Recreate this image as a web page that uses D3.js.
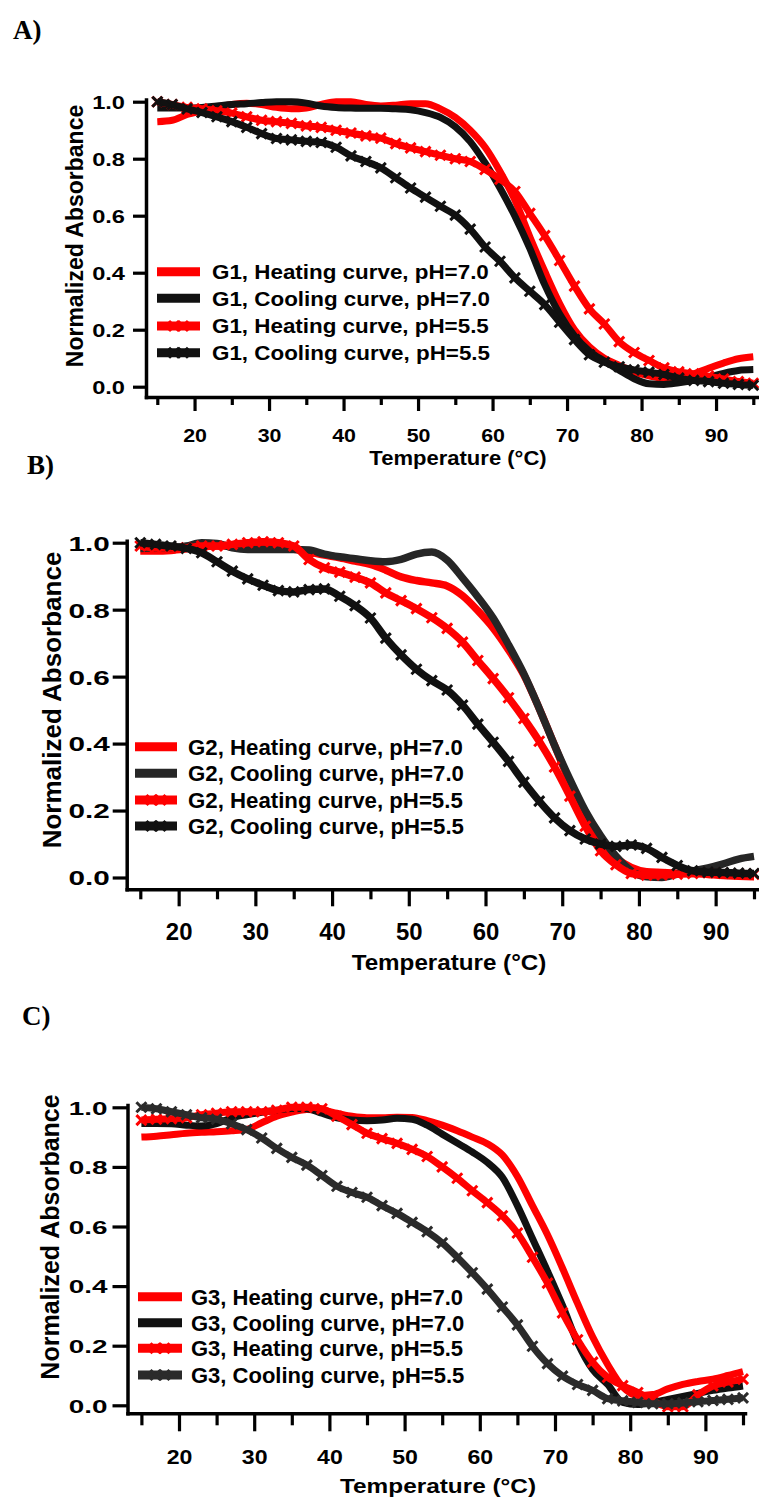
<!DOCTYPE html>
<html>
<head>
<meta charset="utf-8">
<script src="https://cdn.jsdelivr.net/npm/d3@7"></script>
<style>
  body { margin: 0; background: #fff; }
  svg text { font-family: "Liberation Sans", Arial, sans-serif; font-weight: bold; fill: #000; }
  svg text.panel-label { font-family: "Liberation Serif", "Times New Roman", serif; }
</style>
</head>
<body>
<svg id="fig" width="759" height="1497"></svg>
<script>
// Temperature grid (°C) shared by every curve
const temps = [15,17,19,21,23,25,27,29,31,33,35,37,39,41,43,45,47,49,51,53,55,57,59,61,63,65,67,69,71,73,75,77,79,81,83,85,87,89,91,93,95];

// Axis ticks
const xMajorTicks = [20,30,40,50,60,70,80,90];
const xMinorTicks = [15,25,35,45,55,65,75,85,95];
const yTicks = [0,0.2,0.4,0.6,0.8,1.0];

const curveNames = ["Heating curve, pH=7.0", "Cooling curve, pH=7.0", "Heating curve, pH=5.5", "Cooling curve, pH=5.5"];
const groups = ["G1", "G2", "G3"];

// G1 normalized absorbance
const g1Heat70 = [0.93,0.935,0.955,0.968,0.98,0.99,0.995,0.99,0.98,0.975,0.978,0.99,1.0,1.0,0.99,0.985,0.988,0.993,0.993,0.975,0.945,0.9,0.84,0.755,0.655,0.526,0.405,0.292,0.2,0.14,0.1,0.075,0.052,0.038,0.03,0.033,0.045,0.065,0.083,0.098,0.105];
const g1Cool70 = [0.978,0.978,0.978,0.98,0.985,0.99,0.993,0.997,1.0,1.0,0.995,0.985,0.98,0.978,0.977,0.977,0.975,0.972,0.962,0.945,0.912,0.86,0.785,0.697,0.598,0.485,0.358,0.255,0.178,0.125,0.09,0.058,0.028,0.01,0.008,0.014,0.022,0.033,0.047,0.057,0.06];
const g1Heat55 = [1.0,0.99,0.98,0.975,0.968,0.96,0.947,0.935,0.93,0.924,0.915,0.91,0.9,0.89,0.88,0.872,0.853,0.838,0.825,0.812,0.8,0.79,0.762,0.728,0.685,0.608,0.53,0.443,0.353,0.273,0.22,0.158,0.12,0.092,0.066,0.052,0.045,0.037,0.027,0.018,0.012];
const g1Cool55 = [1.0,0.99,0.975,0.962,0.947,0.93,0.91,0.888,0.871,0.866,0.861,0.857,0.84,0.81,0.79,0.768,0.733,0.697,0.665,0.633,0.602,0.553,0.49,0.44,0.382,0.335,0.288,0.226,0.165,0.112,0.086,0.07,0.059,0.051,0.043,0.03,0.022,0.018,0.012,0.008,0.005];

// G2 normalized absorbance
const g2Heat70 = [0.975,0.975,0.977,0.982,0.988,0.99,0.99,0.99,0.99,0.985,0.98,0.972,0.963,0.955,0.945,0.935,0.918,0.898,0.887,0.88,0.871,0.842,0.797,0.745,0.68,0.605,0.505,0.395,0.282,0.177,0.1,0.058,0.03,0.017,0.015,0.013,0.012,0.009,0.006,0.004,0.002];
const g2Cool70 = [0.983,0.985,0.985,0.99,1.0,0.998,0.985,0.98,0.98,0.98,0.98,0.978,0.966,0.958,0.952,0.946,0.943,0.95,0.966,0.972,0.948,0.895,0.838,0.775,0.695,0.608,0.505,0.395,0.293,0.2,0.125,0.064,0.02,0.002,0.0,0.01,0.02,0.029,0.041,0.055,0.063];
const g2Heat55 = [0.99,0.985,0.985,0.985,0.99,0.99,0.995,1.0,1.003,1.0,0.99,0.95,0.925,0.912,0.897,0.88,0.85,0.827,0.803,0.776,0.744,0.703,0.648,0.594,0.537,0.475,0.407,0.33,0.243,0.153,0.08,0.038,0.012,0.007,0.008,0.01,0.012,0.014,0.013,0.011,0.01];
const g2Cool55 = [1.0,0.995,0.99,0.983,0.97,0.943,0.915,0.892,0.873,0.857,0.853,0.86,0.862,0.84,0.812,0.775,0.715,0.665,0.622,0.588,0.56,0.515,0.458,0.404,0.347,0.285,0.228,0.178,0.14,0.115,0.1,0.093,0.097,0.087,0.06,0.036,0.02,0.016,0.015,0.013,0.012];

// G3 normalized absorbance
const g3Heat70 = [0.9,0.903,0.908,0.913,0.916,0.918,0.921,0.926,0.948,0.97,0.984,0.993,0.99,0.98,0.97,0.965,0.965,0.967,0.966,0.955,0.94,0.921,0.9,0.878,0.84,0.768,0.67,0.572,0.46,0.342,0.23,0.137,0.062,0.033,0.036,0.055,0.07,0.08,0.088,0.1,0.113];
const g3Cool70 = [0.946,0.946,0.945,0.94,0.937,0.945,0.965,0.975,0.983,0.99,0.996,0.995,0.98,0.965,0.957,0.955,0.957,0.963,0.96,0.94,0.91,0.88,0.85,0.815,0.765,0.67,0.56,0.45,0.335,0.21,0.12,0.07,0.01,0.003,0.01,0.02,0.03,0.04,0.05,0.058,0.065];
const g3Heat55 = [0.957,0.96,0.962,0.965,0.975,0.98,0.985,0.985,0.985,0.99,1.0,1.0,0.995,0.97,0.942,0.913,0.895,0.879,0.859,0.835,0.8,0.762,0.72,0.68,0.636,0.578,0.497,0.41,0.31,0.22,0.145,0.094,0.066,0.043,0.015,-0.005,-0.005,0.035,0.065,0.078,0.088];
const g3Cool55 = [1.0,0.995,0.985,0.975,0.965,0.96,0.945,0.925,0.897,0.862,0.832,0.806,0.771,0.735,0.714,0.698,0.67,0.644,0.614,0.583,0.545,0.497,0.445,0.39,0.33,0.27,0.198,0.14,0.098,0.07,0.05,0.022,0.015,0.01,0.005,0.005,0.008,0.012,0.016,0.02,0.025];

const panelSeries = [
  [g1Heat70, g1Cool70, g1Heat55, g1Cool55],
  [g2Heat70, g2Cool70, g2Heat55, g2Cool55],
  [g3Heat70, g3Cool70, g3Heat55, g3Cool55]
];
const panelLabels = ["A)", "B)", "C)"];

// Layout and style of each panel
const layouts = [
  { labelX: 13, labelY: 39, labelSize: 27,
    yAxisX: 146, x15: 157.3, x95: 753.3, xRight: 757,
    y1: 101.7, y0: 386.7, yTopPx: 99.5, xAxisY: 397,
    yTickLen: 13, xMajorLen: 14, xMinorLen: 8,
    yLabelGap: 8, yFont: 18.6, yStretch: 1.27,
    xFont: 18.6, xStretch: 1.15, xLabelY: 435,
    xTitle: { x: 458, y: 458, size: 19.5, stretch: 1.13 },
    yTitle: { x: 75, y: 236, size: 23 },
    legend: { x0: 157, x1: 200, tx: 212, rows: [271.7, 298.3, 326, 352.7], size: 20, stretch: 1.12 },
    colors: ["#ff0000", "#111111", "#ff0000", "#111111"], lineW: 7 },
  { labelX: 27, labelY: 474, labelSize: 27,
    yAxisX: 126.7, x15: 140.3, x95: 754, xRight: 759,
    y1: 542.7, y0: 877.5, yTopPx: 540.7, xAxisY: 889.3,
    yTickLen: 14, xMajorLen: 17, xMinorLen: 10,
    yLabelGap: 3, yFont: 20.5, yStretch: 1.45,
    xFont: 23, xStretch: 1.04, xLabelY: 931.7,
    xTitle: { x: 449, y: 962, size: 22, stretch: 1.1 },
    yTitle: { x: 52, y: 700, size: 26 },
    legend: { x0: 135, x1: 177, tx: 188, rows: [746.7, 773.3, 800, 826], size: 22, stretch: 1.01 },
    colors: ["#ff0000", "#262626", "#ff0000", "#111111"], lineW: 7.5 },
  { labelX: 22, labelY: 1025, labelSize: 27,
    yAxisX: 127.5, x15: 141.4, x95: 743, xRight: 745,
    y1: 1107.3, y0: 1405.3, yTopPx: 1105, xAxisY: 1413.3,
    yTickLen: 15, xMajorLen: 18, xMinorLen: 12,
    yLabelGap: 5, yFont: 18.6, yStretch: 1.5,
    xFont: 21, xStretch: 1.1, xLabelY: 1456.7,
    xTitle: { x: 438, y: 1485, size: 21, stretch: 1.16 },
    yTitle: { x: 50, y: 1237, size: 25 },
    legend: { x0: 138, x1: 182, tx: 191, rows: [1296.7, 1322.7, 1348.3, 1375], size: 22, stretch: 1.0 },
    colors: ["#ff0000", "#111111", "#ff0000", "#2b2b2b"], lineW: 7 }
];

const svg = d3.select("#fig");
const crossPath = "M-5,-5L5,5M-5,5L5,-5";

layouts.forEach((L, p) => {
  const g = svg.append("g");

  // Scales: tick positions fixed by the 15 and 95 °C marks, axis line reaches the y axis
  const x = d3.scaleLinear().domain([15, 95]).range([L.x15, L.x95]);
  x.domain([x.invert(L.yAxisX), x.invert(L.xRight)]).range([L.yAxisX, L.xRight]);
  const y = d3.scaleLinear().domain([0, 1]).range([L.y0, L.y1]);
  y.domain([y.invert(L.xAxisY), y.invert(L.yTopPx)]).range([L.xAxisY, L.yTopPx]);

  // Curves
  const line = d3.line().x(d => x(d.t)).y(d => y(d.v)).curve(d3.curveMonotoneX);
  panelSeries[p].forEach((vals, i) => {
    const pts = temps.map((t, k) => ({ t, v: vals[k] }));
    g.append("path").datum(pts)
      .attr("d", line)
      .attr("fill", "none")
      .attr("stroke", L.colors[i])
      .attr("stroke-width", L.lineW)
      .attr("stroke-linejoin", "round");
    if (i >= 2) {
      g.append("g").selectAll("path").data(pts).join("path")
        .attr("d", crossPath)
        .attr("transform", d => `translate(${x(d.t)},${y(d.v)})`)
        .attr("stroke", L.colors[i])
        .attr("stroke-width", 3)
        .attr("fill", "none");
    }
  });

  // X axis: major ticks with labels, minor ticks without
  const gx = g.append("g").attr("transform", `translate(0,${L.xAxisY})`)
    .call(d3.axisBottom(x).tickValues(xMajorTicks).tickSize(L.xMajorLen).tickSizeOuter(0).tickFormat(d3.format("d")));
  const gxm = g.append("g").attr("transform", `translate(0,${L.xAxisY})`)
    .call(d3.axisBottom(x).tickValues(xMinorTicks).tickSize(L.xMinorLen).tickSizeOuter(0).tickFormat(""));
  gxm.select(".domain").remove();
  gx.selectAll(".tick text")
    .attr("y", 0).attr("dy", "0.36em")
    .attr("transform", `translate(0,${L.xLabelY - L.xAxisY}) scale(${L.xStretch},1)`)
    .style("font-size", L.xFont + "px");

  // Y axis
  const gy = g.append("g").attr("transform", `translate(${L.yAxisX},0)`)
    .call(d3.axisLeft(y).tickValues(yTicks).tickSize(L.yTickLen).tickSizeOuter(0).tickFormat(d3.format(".1f")));
  gy.selectAll(".tick text")
    .attr("x", 0).attr("dy", "0.36em")
    .attr("transform", `translate(${-(L.yTickLen + L.yLabelGap)},0) scale(${L.yStretch},1)`)
    .style("font-size", L.yFont + "px");

  [gx, gxm, gy].forEach(a => {
    a.attr("font-family", null).attr("font-size", null);
    a.selectAll(".domain").attr("stroke", "#000").attr("stroke-width", 3.5).attr("stroke-linecap", "square");
    a.selectAll(".tick line").attr("stroke", "#000").attr("stroke-width", 3.2);
  });

  // Axis titles
  g.append("text")
    .attr("transform", `translate(${L.xTitle.x},${L.xTitle.y}) scale(${L.xTitle.stretch},1)`)
    .attr("text-anchor", "middle").attr("dy", "0.36em")
    .style("font-size", L.xTitle.size + "px")
    .text("Temperature (°C)");
  g.append("text")
    .attr("transform", `translate(${L.yTitle.x},${L.yTitle.y}) rotate(-90)`)
    .attr("text-anchor", "middle").attr("dy", "0.36em")
    .style("font-size", L.yTitle.size + "px")
    .text("Normalized Absorbance");

  // Legend
  L.legend.rows.forEach((ry, i) => {
    g.append("line")
      .attr("x1", L.legend.x0).attr("x2", L.legend.x1)
      .attr("y1", ry).attr("y2", ry)
      .attr("stroke", L.colors[i]).attr("stroke-width", 9);
    if (i >= 2) {
      const mid = (L.legend.x0 + L.legend.x1) / 2;
      [mid - 4.5, mid + 4.5].forEach(cx => {
        g.append("path").attr("d", crossPath)
          .attr("transform", `translate(${cx},${ry})`)
          .attr("stroke", L.colors[i]).attr("stroke-width", 3).attr("fill", "none");
      });
    }
    g.append("text")
      .attr("transform", `translate(${L.legend.tx},${ry}) scale(${L.legend.stretch},1)`)
      .attr("dy", "0.36em")
      .style("font-size", L.legend.size + "px")
      .text(`${groups[p]}, ${curveNames[i]}`);
  });

  // Panel letter
  g.append("text").attr("class", "panel-label")
    .attr("x", L.labelX).attr("y", L.labelY)
    .style("font-size", L.labelSize + "px")
    .text(panelLabels[p]);
});
</script>
</body>
</html>
